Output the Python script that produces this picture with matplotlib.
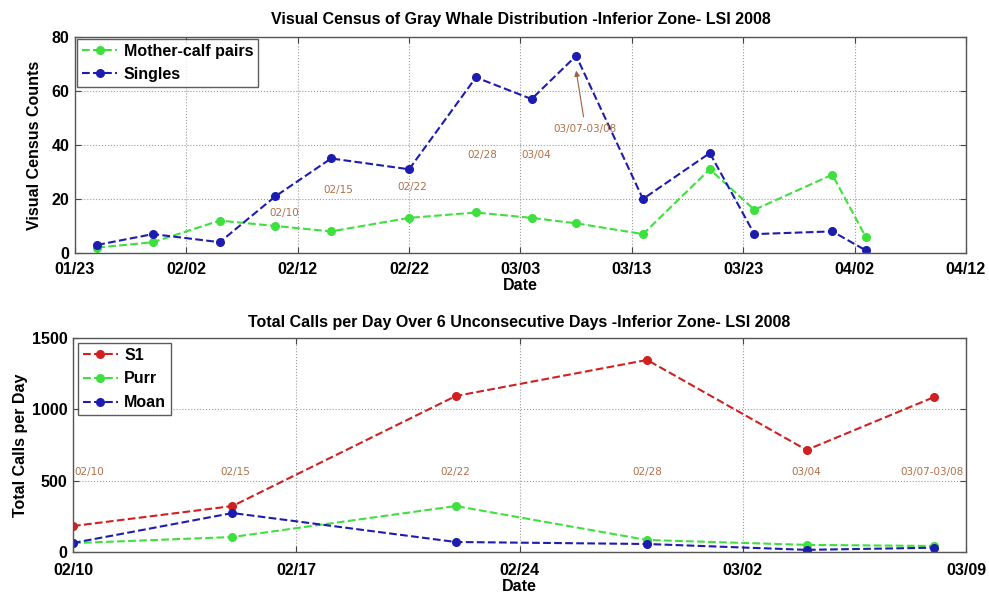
import matplotlib
matplotlib.use('Agg')
import matplotlib.pyplot as plt
import matplotlib.dates as mdates
from datetime import datetime

plt.rcParams['font.family'] = ['Liberation Sans', 'DejaVu Sans']
plt.rcParams['font.weight'] = 'bold'

# --- top chart: visual census ---
census_dates = ['2008-01-25', '2008-01-30', '2008-02-05', '2008-02-10', '2008-02-15',
                '2008-02-22', '2008-02-28', '2008-03-04', '2008-03-08', '2008-03-14',
                '2008-03-20', '2008-03-24', '2008-03-31', '2008-04-03']
mother_calf = [2, 4, 12, 10, 8, 13, 15, 13, 11, 7, 31, 16, 29, 6]
singles = [3, 7, 4, 21, 35, 31, 65, 57, 73, 20, 37, 7, 8, 1]
census_ticks = ['2008-01-23', '2008-02-02', '2008-02-12', '2008-02-22', '2008-03-03',
                '2008-03-13', '2008-03-23', '2008-04-02', '2008-04-12']
census_notes = ['02/10', '02/15', '02/22', '02/28', '03/04', '03/07-03/08']

# --- bottom chart: calls per day ---
call_dates = ['2008-02-10', '2008-02-15', '2008-02-22', '2008-02-28', '2008-03-04', '2008-03-08']
s1 = [182, 322, 1093, 1346, 715, 1086]
purr = [62, 105, 322, 84, 50, 42]
moan = [63, 273, 70, 56, 15, 30]
call_ticks = ['2008-02-10', '2008-02-17', '2008-02-24', '2008-03-02', '2008-03-09']
call_notes = ['02/10', '02/15', '02/22', '02/28', '03/04', '03/07-03/08']


def d(s):
    return datetime.strptime(s, '%Y-%m-%d')


def dt(s):
    return datetime.strptime(s, '%Y-%m-%d %H:%M')


GREEN = '#3ee03e'
BLUE = '#1c1cb0'
RED = '#d02020'
NOTE = '#b07048'
FS = 11.5


def style_axes(ax, xpad):
    ax.grid(True, linestyle=':', color='#9a9a9a', linewidth=0.8)
    ax.tick_params(direction='in', top=True, right=True, labelsize=FS, length=4,
                   color='#444444')
    ax.tick_params(axis='x', pad=xpad)
    ax.tick_params(axis='y', pad=4)
    for lab in ax.get_xticklabels() + ax.get_yticklabels():
        lab.set_fontweight('bold')
    for sp in ax.spines.values():
        sp.set_color('#555555')
        sp.set_linewidth(1.0)


def style_legend(leg):
    leg.get_frame().set_edgecolor('#333333')
    leg.get_frame().set_linewidth(1.0)
    for t in leg.get_texts():
        t.set_fontweight('bold')


fig = plt.figure(figsize=(9.89, 5.97), dpi=100)

# top
ax1 = fig.add_axes([0.0758, 0.5762, 0.9009, 0.362])
ax1.plot([d(x) for x in census_dates], mother_calf, '--o', color=GREEN, lw=1.5, ms=5.5,
         label='Mother-calf pairs')
ax1.plot([d(x) for x in census_dates], singles, '--o', color=BLUE, lw=1.5, ms=5.5,
         label='Singles')
ax1.set_xlim(d(census_ticks[0]), d(census_ticks[-1]))
ax1.set_ylim(0, 80)
ax1.set_xticks([d(x) for x in census_ticks])
ax1.xaxis.set_major_formatter(mdates.DateFormatter('%m/%d'))
ax1.set_yticks([0, 20, 40, 60, 80])
ax1.set_title('Visual Census of Gray Whale Distribution -Inferior Zone- LSI 2008',
              fontsize=FS, fontweight='bold', pad=9)
ax1.set_xlabel('Date', fontsize=FS, fontweight='bold', labelpad=1)
ax1.set_ylabel('Visual Census Counts', fontsize=FS, fontweight='bold', labelpad=7)
style_axes(ax1, 6.5)
leg1 = ax1.legend(loc='upper left', fontsize=FS, frameon=True, fancybox=False,
                  borderaxespad=0.15, handlelength=2.2, borderpad=0.3, labelspacing=0.5,
                  handletextpad=0.4)
style_legend(leg1)

note_pos1 = [('2008-02-10 20:00', 14.8), ('2008-02-15 16:00', 23.3), ('2008-02-22 08:00', 24.4),
             ('2008-02-28 14:00', 36.3), ('2008-03-04 10:00', 36.3)]
for txt, (xs, yv) in zip(census_notes[:5], note_pos1):
    ax1.text(dt(xs), yv, txt, color=NOTE, fontsize=7.5, fontweight='normal',
             ha='center', va='center', family='DejaVu Sans')
ax1.annotate(census_notes[5], xy=(d('2008-03-08'), 67.5), xytext=(dt('2008-03-08 20:00'), 46),
             color=NOTE, fontsize=7.5, fontweight='normal', ha='center', va='center',
             family='DejaVu Sans',
             arrowprops=dict(arrowstyle='-|>', color='#a06040', lw=0.8, shrinkA=3, shrinkB=0,
                             mutation_scale=8))

# bottom
ax2 = fig.add_axes([0.0738, 0.0754, 0.903, 0.3585])
xs2 = [d(x) for x in call_dates]
ax2.plot(xs2, s1, '--o', color=RED, lw=1.5, ms=5.5, label='S1')
ax2.plot(xs2, purr, '--o', color=GREEN, lw=1.5, ms=5.5, label='Purr')
ax2.plot(xs2, moan, '--o', color=BLUE, lw=1.5, ms=5.5, label='Moan')
ax2.set_xlim(d(call_ticks[0]), d(call_ticks[-1]))
ax2.set_ylim(0, 1500)
ax2.set_xticks([d(x) for x in call_ticks])
ax2.xaxis.set_major_formatter(mdates.DateFormatter('%m/%d'))
ax2.set_yticks([0, 500, 1000, 1500])
ax2.set_title('Total Calls per Day Over 6 Unconsecutive Days -Inferior Zone- LSI 2008',
              fontsize=FS, fontweight='bold', pad=8)
ax2.set_xlabel('Date', fontsize=FS, fontweight='bold', labelpad=1)
ax2.set_ylabel('Total Calls per Day', fontsize=FS, fontweight='bold', labelpad=2.5)
style_axes(ax2, 8)
leg2 = ax2.legend(loc='upper left', fontsize=FS, frameon=True, fancybox=False,
                  borderaxespad=0.3, handlelength=2.2, borderpad=0.3, labelspacing=0.55,
                  handletextpad=0.4)
style_legend(leg2)

note_x2 = ['2008-02-10 12:00', '2008-02-15 02:00', '2008-02-22 00:00', '2008-02-28 00:00',
           '2008-03-04 00:00', '2008-03-07 22:00']
for txt, xs in zip(call_notes, note_x2):
    ax2.text(dt(xs), 560, txt, color=NOTE, fontsize=7.5, fontweight='normal',
             ha='center', va='center', family='DejaVu Sans')

fig.savefig('out.png', dpi=100)
